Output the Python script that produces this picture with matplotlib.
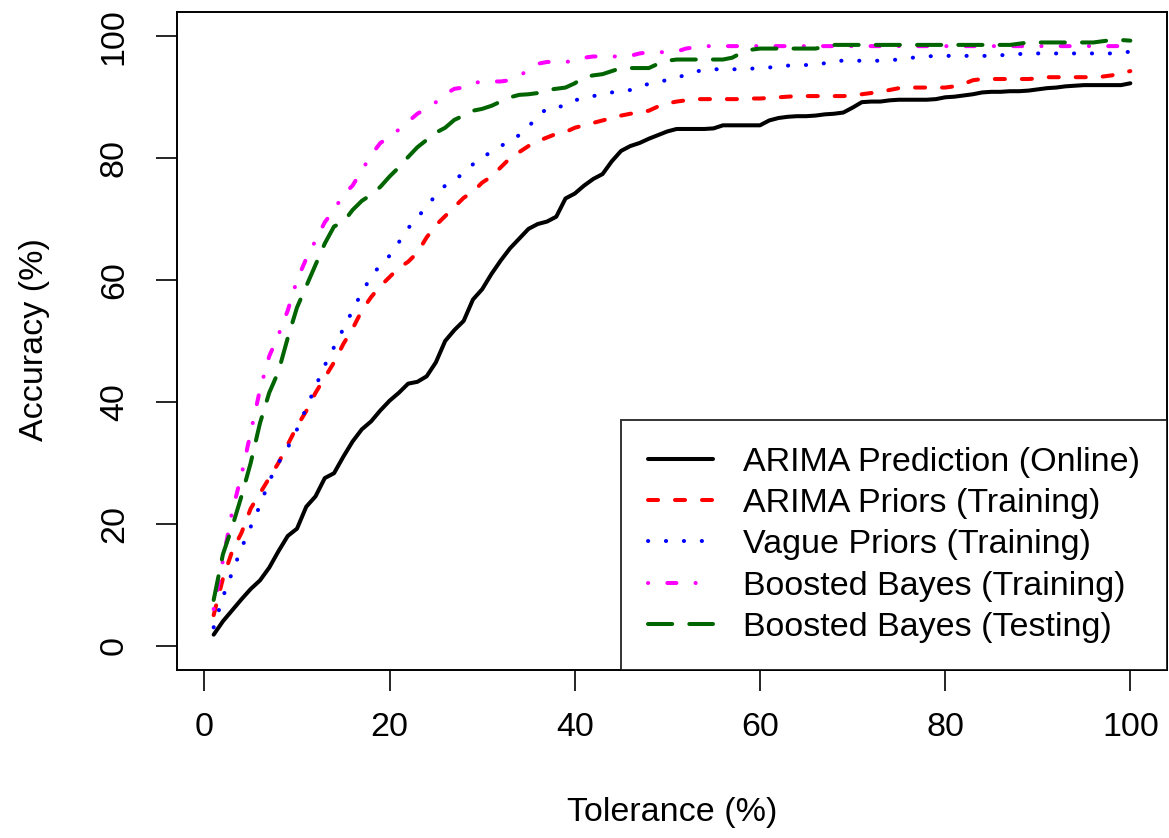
import matplotlib
matplotlib.use('Agg')
import matplotlib.pyplot as plt

plt.rcParams['font.family'] = ['Liberation Sans', 'DejaVu Sans']

tolerance = list(range(1, 101))

arima_online = [
    1.8, 4.0, 5.8, 7.6, 9.3, 10.7, 12.8, 15.5, 18.0, 19.2,
    22.8, 24.5, 27.5, 28.3, 31.0, 33.5, 35.5, 36.8, 38.6, 40.2,
    41.5, 43.0, 43.3, 44.2, 46.5, 50.0, 51.8, 53.3, 56.8, 58.5,
    61.0, 63.2, 65.2, 66.8, 68.4, 69.2, 69.6, 70.4, 73.4, 74.2,
    75.5, 76.6, 77.4, 79.5, 81.2, 82.0, 82.5, 83.2, 83.8, 84.4,
    84.8, 84.8, 84.8, 84.8, 84.9, 85.4, 85.4, 85.4, 85.4, 85.4,
    86.2, 86.6, 86.8, 86.9, 86.9, 87.0, 87.2, 87.3, 87.5, 88.3,
    89.2, 89.3, 89.3, 89.5, 89.6, 89.6, 89.6, 89.6, 89.7, 90.0,
    90.1, 90.3, 90.5, 90.8, 90.9, 90.9, 91.0, 91.0, 91.1, 91.3,
    91.5, 91.6, 91.8, 91.9, 92.0, 92.0, 92.0, 92.0, 92.0, 92.3]

arima_priors = [
    5.0, 11.0, 15.5, 18.5, 22.5, 25.0, 27.5, 30.0, 33.0, 36.0,
    38.5, 41.5, 44.0, 46.5, 49.5, 52.0, 55.0, 57.2, 59.0, 60.5,
    62.0, 63.0, 64.5, 67.0, 69.0, 70.5, 72.0, 73.5, 74.5, 76.0,
    77.0, 78.5, 80.0, 81.0, 82.0, 82.8, 83.4, 84.0, 84.3, 85.0,
    85.4, 85.8, 86.2, 86.6, 87.0, 87.3, 87.5, 87.8, 88.5, 89.0,
    89.3, 89.5, 89.7, 89.7, 89.7, 89.7, 89.7, 89.7, 89.8, 89.8,
    89.9, 90.0, 90.1, 90.2, 90.2, 90.2, 90.2, 90.2, 90.2, 90.3,
    90.5, 90.7, 90.9, 91.2, 91.5, 91.6, 91.6, 91.6, 91.6, 91.6,
    91.8, 92.2, 92.8, 93.0, 93.0, 93.0, 93.0, 93.0, 93.0, 93.1,
    93.3, 93.3, 93.3, 93.3, 93.3, 93.3, 93.4, 93.6, 94.0, 94.3]

vague_priors = [
    3.0, 8.0, 12.0, 16.0, 19.5, 23.0, 27.0, 30.0, 32.5, 35.5,
    39.0, 42.5, 46.0, 49.0, 52.0, 55.0, 58.0, 60.5, 62.5, 64.0,
    66.2, 68.5, 70.3, 72.0, 74.0, 75.5, 76.5, 77.5, 79.0, 80.2,
    81.0, 82.0, 82.8, 83.8, 85.2, 86.8, 88.2, 88.4, 88.6, 89.5,
    89.9, 90.2, 90.5, 90.8, 91.0, 91.2, 91.8, 92.2, 92.6, 92.8,
    93.2, 93.7, 94.2, 94.5, 94.6, 94.6, 94.6, 94.6, 94.7, 94.8,
    94.9, 95.0, 95.2, 95.3, 95.3, 95.3, 95.6, 96.0, 96.0, 96.0,
    96.0, 96.0, 96.0, 96.1, 96.2, 96.4, 96.6, 96.7, 96.8, 96.8,
    96.8, 96.8, 96.8, 96.8, 96.8, 96.9, 97.0, 97.1, 97.2, 97.2,
    97.2, 97.2, 97.2, 97.2, 97.2, 97.2, 97.2, 97.2, 97.3, 97.5]

boosted_train = [
    6.0, 14.0, 22.0, 28.0, 35.0, 42.0, 47.5, 51.0, 55.0, 60.0,
    63.5, 66.5, 69.5, 71.5, 74.0, 75.5, 78.0, 80.5, 82.5, 83.5,
    84.7, 86.0, 87.3, 88.2, 89.2, 90.5, 91.4, 91.6, 92.3, 92.6,
    92.6, 92.6, 92.8, 93.5, 94.5, 95.5, 95.8, 95.8, 95.8, 96.0,
    96.5, 96.7, 96.7, 96.7, 96.7, 96.8, 97.2, 97.4, 97.4, 97.4,
    97.5, 98.0, 98.2, 98.4, 98.4, 98.4, 98.4, 98.4, 98.4, 98.4,
    98.4, 98.4, 98.4, 98.4, 98.4, 98.4, 98.4, 98.4, 98.4, 98.4,
    98.4, 98.4, 98.4, 98.4, 98.4, 98.4, 98.4, 98.4, 98.4, 98.4,
    98.4, 98.4, 98.4, 98.4, 98.4, 98.4, 98.4, 98.4, 98.4, 98.4,
    98.4, 98.4, 98.4, 98.4, 98.4, 98.4, 98.4, 98.4, 98.4, 98.4]

boosted_test = [
    7.5, 15.0, 19.5, 24.5, 30.0, 36.5, 41.5, 45.0, 50.5, 55.5,
    59.0, 62.5, 66.0, 68.8, 69.5, 71.5, 73.0, 74.0, 75.3, 77.0,
    78.5, 80.2, 81.8, 83.0, 84.2, 85.0, 86.3, 87.0, 87.8, 88.1,
    88.6, 89.3, 90.0, 90.4, 90.5, 90.7, 91.2, 91.4, 91.6, 92.3,
    93.3, 93.6, 93.8, 94.3, 94.8, 94.8, 94.8, 94.8, 95.5, 96.0,
    96.2, 96.2, 96.2, 96.2, 96.2, 96.2, 96.5, 97.3, 97.8, 98.0,
    98.0, 98.0, 98.0, 98.0, 98.0, 98.0, 98.3, 98.6, 98.6, 98.6,
    98.6, 98.6, 98.6, 98.6, 98.6, 98.6, 98.6, 98.6, 98.6, 98.6,
    98.6, 98.6, 98.6, 98.6, 98.6, 98.6, 98.6, 98.8, 99.0, 99.0,
    99.0, 99.0, 99.0, 99.0, 99.0, 99.0, 99.2, 99.4, 99.4, 99.3]

labels = ['ARIMA Prediction (Online)', 'ARIMA Priors (Training)',
          'Vague Priors (Training)', 'Boosted Bayes (Training)',
          'Boosted Bayes (Testing)']

fs = 24.5

fig = plt.figure(figsize=(11.69, 8.38), dpi=100)
ax = fig.add_axes([177/1169, 1 - 670/838, 990/1169, 658/838])

lw = 2.9
# R style line types (solid, dashed, dotted, dotdash, longdash)
ax.plot(tolerance, arima_online, color='black', lw=lw, ls='-',
        solid_capstyle='round', solid_joinstyle='round', label=labels[0])
ax.plot(tolerance, arima_priors, color='#ff0000', lw=lw, ls=(0, (2.5, 4.2)),
        dash_capstyle='round', label=labels[1])
ax.plot(tolerance, vague_priors, color='#0000ff', lw=lw, ls=(0, (0.05, 4.4)),
        dash_capstyle='round', label=labels[2])
ax.plot(tolerance, boosted_train, color='#ff00ff', lw=lw, ls=(0, (0.05, 4.75, 2.25, 4.75)),
        dash_capstyle='round', label=labels[3])
ax.plot(tolerance, boosted_test, color='#006400', lw=lw, ls=(0, (6.0, 4.25)),
        dash_capstyle='round', label=labels[4])

ax.set_xlim(-2.96, 103.96)
ax.set_ylim(-4, 104)
ax.set_xticks([0, 20, 40, 60, 80, 100])
ax.set_yticks([0, 20, 40, 60, 80, 100])
for s in ax.spines.values():
    s.set_linewidth(1.4)
ax.tick_params(axis='both', direction='out', length=15, width=1.2, labelsize=fs)
ax.tick_params(axis='x', pad=15)
ax.tick_params(axis='y', pad=19)
for t in ax.get_yticklabels():
    t.set_rotation(90)
    t.set_va('center')

fig.text(672/1169, 1 - 812/838, 'Tolerance (%)', ha='center', va='center', fontsize=fs)
fig.text(35/1169, 1 - 340/838, 'Accuracy (%)', ha='center', va='center', rotation=90, fontsize=fs)

leg = ax.legend(loc='lower right', fontsize=fs, frameon=True, fancybox=False,
                edgecolor='black', borderaxespad=0, handlelength=1.9,
                handletextpad=0.88, borderpad=0.8, labelspacing=0.3)
leg.get_frame().set_linewidth(1.4)

fig.savefig('out.png', dpi=100)
